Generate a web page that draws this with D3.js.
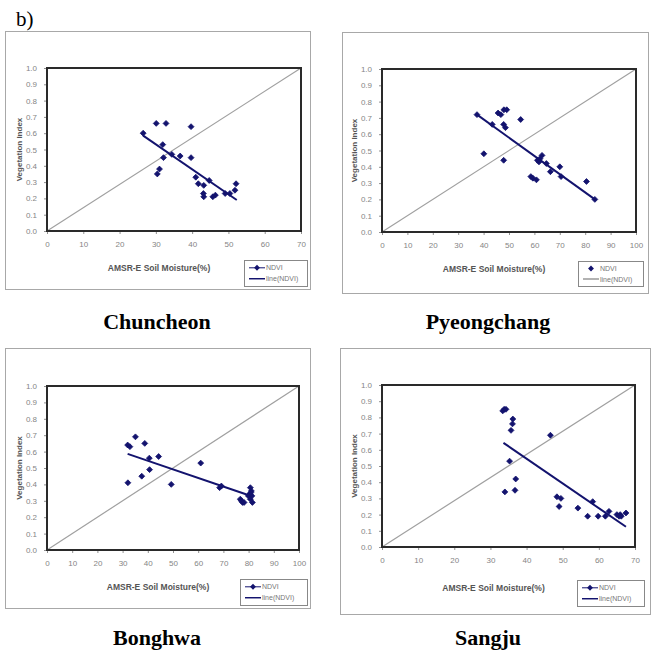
<!DOCTYPE html>
<html>
<head>
<meta charset="utf-8">
<script src="https://cdn.jsdelivr.net/npm/d3@7"></script>
<style>
  body { margin: 0; background: #fff; }
  svg { display: block; }
  .tick text { font-family: "Liberation Sans", Arial, sans-serif; font-size: 8px; fill: #858585; }
  .tick line { stroke: #909090; }
  .domain { display: none; }
</style>
</head>
<body>
<div id="chart"></div>
<script>
// site names, in panel order
const sites = ['Chuncheon', 'Pyeongchang', 'Bonghwa', 'Sangju'];

// [AMSR-E soil moisture %, NDVI]
const chuncheon = [[26.5,0.60],[30.1,0.66],[32.8,0.66],[39.7,0.64],[31.9,0.53],[32.1,0.45],[34.4,0.47],
  [36.7,0.46],[39.7,0.45],[31.0,0.38],[30.4,0.35],[41.0,0.33],[41.7,0.29],[43.2,0.28],[44.7,0.31],
  [43.1,0.23],[43.2,0.21],[45.7,0.21],[46.4,0.22],[49.1,0.23],[50.4,0.23],[51.8,0.25],[52.1,0.29]];
const pyeongchang = [[37.4,0.72],[40.1,0.48],[43.4,0.66],[45.7,0.73],[46.8,0.72],[48.0,0.75],[49.1,0.75],
  [47.9,0.66],[48.6,0.64],[47.9,0.44],[54.6,0.69],[58.6,0.34],[59.4,0.33],[60.8,0.32],[61.2,0.44],
  [61.8,0.43],[62.2,0.45],[63.0,0.47],[64.7,0.42],[66.3,0.37],[70.0,0.40],[70.5,0.34],[80.5,0.31],[83.8,0.20]];
const bonghwa = [[32.0,0.64],[32.9,0.63],[35.1,0.69],[38.8,0.65],[40.6,0.56],[44.3,0.57],[40.7,0.49],
  [37.6,0.45],[32.1,0.41],[49.3,0.40],[61.0,0.53],[68.5,0.38],[69.2,0.39],[76.7,0.31],[77.1,0.30],
  [77.6,0.29],[78.2,0.29],[80.7,0.38],[81.1,0.36],[80.4,0.34],[79.9,0.33],[81.3,0.33],[80.7,0.31],
  [81.5,0.29],[80.9,0.35]];
const sangju = [[33.4,0.84],[33.8,0.85],[34.3,0.85],[36.2,0.79],[36.1,0.76],[35.7,0.72],[35.3,0.53],
  [37.0,0.42],[36.8,0.35],[34.0,0.34],[46.6,0.69],[48.4,0.31],[49.5,0.30],[49.0,0.25],[54.2,0.24],
  [56.9,0.19],[58.3,0.28],[59.8,0.19],[61.8,0.19],[62.8,0.22],[65.0,0.20],[65.6,0.19],[65.9,0.20],
  [66.2,0.19],[67.5,0.21]];

// linear trend line(NDVI) ends, as drawn
const chuncheonTrend = [[26.5,0.585],[52.3,0.19]];
const pyeongchangTrend = [[37.4,0.72],[83.8,0.20]];
const bonghwaTrend = [[32.0,0.586],[79.8,0.335]];
const sangjuTrend = [[33.6,0.643],[67.5,0.125]];

const xMaxes = [70, 100, 100, 70];
const yTicks = [0, 0.1, 0.2, 0.3, 0.4, 0.5, 0.6, 0.7, 0.8, 0.9, 1.0];
const legendLabels = ['NDVI', 'line(NDVI)'];

const points = [chuncheon, pyeongchang, bonghwa, sangju];
const trends = [chuncheonTrend, pyeongchangTrend, bonghwaTrend, sangjuTrend];

// panel boxes on the page
const layout = [
  { frame: [5, 31, 310, 289], plot: [47, 68, 301, 231], legend: [244, 260, 307, 286], title: [157, 329], markerOnly: false },
  { frame: [342, 32, 648, 293], plot: [382, 69, 636, 232], legend: [578, 261, 643, 286], title: [488, 329], markerOnly: true },
  { frame: [5, 348, 310, 608], plot: [47, 386, 299, 550], legend: [240, 579, 307, 605], title: [157, 645], markerOnly: false },
  { frame: [340, 348, 650, 614], plot: [382, 385, 635, 547], legend: [577, 580, 644, 606], title: [488, 645], markerOnly: false },
];

const navy = '#13136e';
const sans = '"Liberation Sans", Arial, sans-serif';

const svg = d3.select('#chart').append('svg')
  .attr('width', 654)
  .attr('height', 652);

svg.append('text')
  .attr('x', 16).attr('y', 26)
  .style('font-family', '"Liberation Serif", "Times New Roman", serif')
  .style('font-size', '21px')
  .text('b)');

const diamond = d3.symbol().type(d3.symbolDiamond2).size(22);

const panel = (g, i) => {
  const L = layout[i];
  const [fx0, fy0, fx1, fy1] = L.frame;
  const [px0, py0, px1, py1] = L.plot;

  g.append('rect')
    .attr('x', fx0 + 0.5).attr('y', fy0 + 0.5)
    .attr('width', fx1 - fx0).attr('height', fy1 - fy0)
    .attr('fill', '#fff').attr('stroke', '#a8a8a8');

  const x = d3.scaleLinear().domain([0, xMaxes[i]]).range([px0, px1]);
  const y = d3.scaleLinear().domain([0, 1]).range([py1, py0]);

  g.append('g')
    .attr('transform', `translate(0,${py1})`)
    .call(d3.axisBottom(x).ticks(xMaxes[i] / 10).tickSize(3).tickPadding(7));
  g.append('g')
    .attr('transform', `translate(${px0},0)`)
    .call(d3.axisLeft(y).tickValues(yTicks).tickFormat(d3.format('.1f')).tickSize(3).tickPadding(7));

  // 1:1 line
  g.append('line')
    .attr('x1', x(0)).attr('y1', y(0))
    .attr('x2', x(xMaxes[i])).attr('y2', y(1))
    .attr('stroke', '#a0a0a0').attr('stroke-width', 1.2);

  g.append('path')
    .attr('d', d3.line().x(d => x(d[0])).y(d => y(d[1]))(trends[i]))
    .attr('stroke', navy).attr('stroke-width', 2).attr('fill', 'none');

  g.selectAll('path.pt')
    .data(points[i])
    .enter().append('path')
    .attr('class', 'pt')
    .attr('d', diamond)
    .attr('transform', d => `translate(${x(d[0])},${y(d[1])})`)
    .attr('fill', navy)
    .attr('stroke', navy).attr('stroke-width', 0.8);

  g.append('rect')
    .attr('x', px0).attr('y', py0)
    .attr('width', px1 - px0).attr('height', py1 - py0)
    .attr('fill', 'none').attr('stroke', '#2a2a2a').attr('stroke-width', 2);

  g.append('text')
    .attr('x', (px0 + px1) / 2 - 15).attr('y', L.legend[1] + 11)
    .attr('text-anchor', 'middle')
    .style('font-family', sans).style('font-size', '8.5px').style('font-weight', 'bold')
    .attr('fill', '#555')
    .text('AMSR-E Soil Moisture(%)');

  g.append('text')
    .attr('transform', `translate(${px0 - 25},${(py0 + py1) / 2}) rotate(-90)`)
    .attr('text-anchor', 'middle')
    .style('font-family', sans).style('font-size', '8px').style('font-weight', 'bold')
    .attr('fill', '#555')
    .text('Vegetation Index');

  // legend
  const [lx0, ly0, lx1, ly1] = L.legend;
  g.append('rect')
    .attr('x', lx0 + 0.5).attr('y', ly0 + 0.5)
    .attr('width', lx1 - lx0).attr('height', ly1 - ly0)
    .attr('fill', '#fff').attr('stroke', '#888');
  const rowY = [ly0 + (ly1 - ly0) * 0.3, ly0 + (ly1 - ly0) * 0.72];
  legendLabels.forEach((lab, k) => {
    const showLine = !(L.markerOnly && k === 0);
    if (showLine) {
      g.append('line')
        .attr('x1', lx0 + 5).attr('x2', lx0 + 21)
        .attr('y1', rowY[k]).attr('y2', rowY[k])
        .attr('stroke', L.markerOnly ? '#999' : navy).attr('stroke-width', k === 0 ? 1 : 1.5);
    }
    if (k === 0) {
      g.append('path')
        .attr('d', diamond)
        .attr('transform', `translate(${lx0 + 13},${rowY[k]})`)
        .attr('fill', navy);
    }
    g.append('text')
      .attr('x', lx0 + 22).attr('y', rowY[k] + 2.5)
      .style('font-family', sans).style('font-size', '7px')
      .attr('fill', '#777')
      .text(lab);
  });

  g.append('text')
    .attr('x', L.title[0]).attr('y', L.title[1])
    .attr('text-anchor', 'middle')
    .style('font-family', '"Liberation Serif", "Times New Roman", serif')
    .style('font-size', '22px').style('font-weight', 'bold')
    .text(sites[i]);
};

sites.forEach((s, i) => panel(svg.append('g'), i));
</script>
</body>
</html>
